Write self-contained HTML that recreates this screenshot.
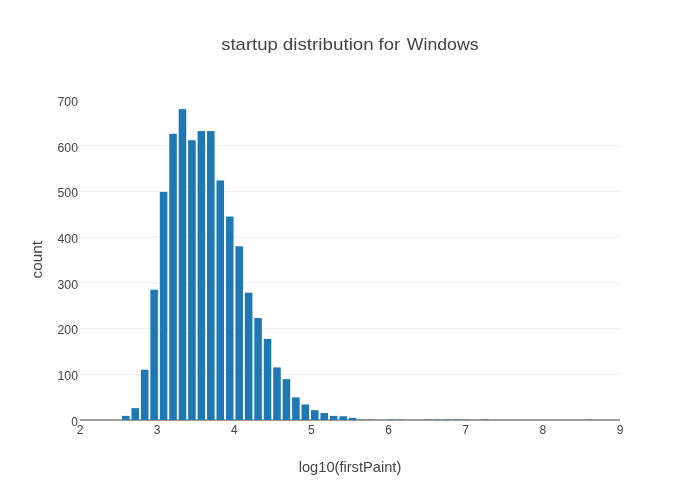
<!DOCTYPE html>
<html lang="en">
<head>
<meta charset="utf-8">
<title>startup distribution for Windows</title>
<style>
html,body{margin:0;padding:0;background:#fff;}
body{width:700px;height:500px;overflow:hidden;}
svg{display:block;font-family:"Liberation Sans",sans-serif;}
text{fill:#444;}
.g line{stroke:#eee;stroke-width:1;}
.b rect{fill:#1f77b4;}
.t{font-size:12px;}
</style>
</head>
<body>
<svg width="700" height="500" viewBox="0 0 700 500">
<rect x="0" y="0" width="700" height="500" fill="#fff"/>
<g class="g">
<line x1="80" x2="620" y1="374.29" y2="374.29"/>
<line x1="80" x2="620" y1="328.57" y2="328.57"/>
<line x1="80" x2="620" y1="282.86" y2="282.86"/>
<line x1="80" x2="620" y1="237.14" y2="237.14"/>
<line x1="80" x2="620" y1="191.43" y2="191.43"/>
<line x1="80" x2="620" y1="145.71" y2="145.71"/>
</g>
<rect x="80" y="419" width="540" height="2" fill="#9e9e9e"/>
<g class="b">
<rect x="122.00" y="415.89" width="7.56" height="4.11"/>
<rect x="131.45" y="408.11" width="7.56" height="11.89"/>
<rect x="140.90" y="369.71" width="7.56" height="50.29"/>
<rect x="150.35" y="289.71" width="7.56" height="130.29"/>
<rect x="159.80" y="191.89" width="7.56" height="228.11"/>
<rect x="169.25" y="133.83" width="7.56" height="286.17"/>
<rect x="178.70" y="109.14" width="7.56" height="310.86"/>
<rect x="188.15" y="140.23" width="7.56" height="279.77"/>
<rect x="197.60" y="131.09" width="7.56" height="288.91"/>
<rect x="207.05" y="131.09" width="7.56" height="288.91"/>
<rect x="216.50" y="180.46" width="7.56" height="239.54"/>
<rect x="225.95" y="216.57" width="7.56" height="203.43"/>
<rect x="235.40" y="246.29" width="7.56" height="173.71"/>
<rect x="244.85" y="292.69" width="7.56" height="127.31"/>
<rect x="254.30" y="318.06" width="7.56" height="101.94"/>
<rect x="263.75" y="338.86" width="7.56" height="81.14"/>
<rect x="273.20" y="367.43" width="7.56" height="52.57"/>
<rect x="282.65" y="379.09" width="7.56" height="40.91"/>
<rect x="292.10" y="397.37" width="7.56" height="22.63"/>
<rect x="301.55" y="404.46" width="7.56" height="15.54"/>
<rect x="311.00" y="410.17" width="7.56" height="9.83"/>
<rect x="320.45" y="413.05" width="7.56" height="6.95"/>
<rect x="329.90" y="415.89" width="7.56" height="4.11"/>
<rect x="339.35" y="416.25" width="7.56" height="3.75"/>
<rect x="348.80" y="417.85" width="7.56" height="2.15"/>
<rect x="358.25" y="419.50" width="7.56" height="0.50"/>
<rect x="367.70" y="419.50" width="7.56" height="0.50"/>
<rect x="386.60" y="419.54" width="7.56" height="0.46"/>
<rect x="396.05" y="419.54" width="7.56" height="0.46"/>
<rect x="424.40" y="419.54" width="7.56" height="0.46"/>
<rect x="433.85" y="419.54" width="7.56" height="0.46"/>
<rect x="443.30" y="419.54" width="7.56" height="0.46"/>
<rect x="452.75" y="419.54" width="7.56" height="0.46"/>
<rect x="462.20" y="419.54" width="7.56" height="0.46"/>
<rect x="481.10" y="419.54" width="7.56" height="0.46"/>
<rect x="585.05" y="419.54" width="7.56" height="0.46"/>
</g>
<g class="t" text-anchor="end">
<text x="78" y="425.8">0</text>
<text x="78" y="380.1" textLength="20.5" lengthAdjust="spacingAndGlyphs">100</text>
<text x="78" y="334.4" textLength="20.5" lengthAdjust="spacingAndGlyphs">200</text>
<text x="78" y="288.7" textLength="20.5" lengthAdjust="spacingAndGlyphs">300</text>
<text x="78" y="242.9" textLength="20.5" lengthAdjust="spacingAndGlyphs">400</text>
<text x="78" y="197.2" textLength="20.5" lengthAdjust="spacingAndGlyphs">500</text>
<text x="78" y="151.5" textLength="20.5" lengthAdjust="spacingAndGlyphs">600</text>
<text x="78" y="105.8" textLength="20.5" lengthAdjust="spacingAndGlyphs">700</text>
</g>
<g class="t" text-anchor="middle">
<text x="80.00" y="434">2</text>
<text x="157.14" y="434">3</text>
<text x="234.29" y="434">4</text>
<text x="311.43" y="434">5</text>
<text x="388.57" y="434">6</text>
<text x="465.71" y="434">7</text>
<text x="542.86" y="434">8</text>
<text x="620.00" y="434">9</text>
</g>
<g font-size="17" lengthAdjust="spacingAndGlyphs"><text x="221.2" y="50" textLength="56.6" lengthAdjust="spacingAndGlyphs">startup</text><text x="282.8" y="50" textLength="91.0" lengthAdjust="spacingAndGlyphs">distribution</text><text x="378.6" y="50" textLength="21.5" lengthAdjust="spacingAndGlyphs">for</text><text x="406.8" y="50" textLength="71.8" lengthAdjust="spacingAndGlyphs">Windows</text></g>
<text x="350" y="472" text-anchor="middle" font-size="14.3" textLength="102.6" lengthAdjust="spacingAndGlyphs">log10(firstPaint)</text>
<text transform="translate(42,259.7) rotate(-90)" text-anchor="middle" font-size="14.3" textLength="37.4" lengthAdjust="spacingAndGlyphs">count</text>
</svg>
</body>
</html>
